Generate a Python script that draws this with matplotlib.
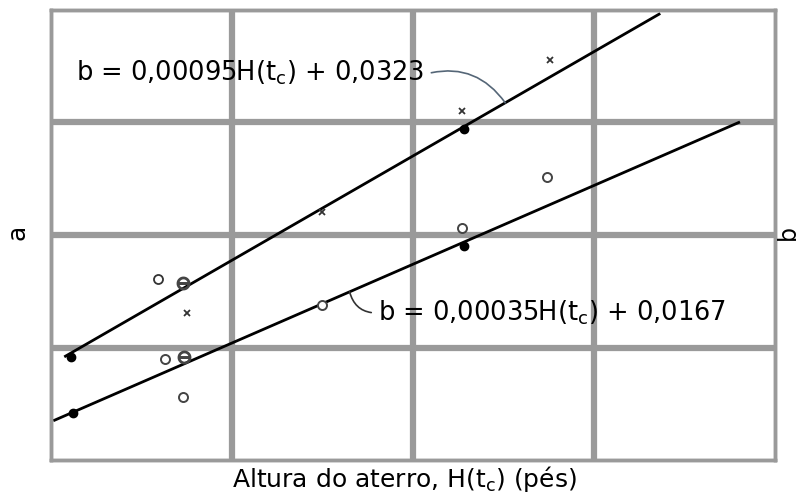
import numpy as np
import matplotlib.pyplot as plt

plt.rcParams['font.family'] = ['DejaVu Sans']

# fitted lines (H in ft)
h_line_a = [0.8, 33.6]
h_line_b = [0.2, 38.0]
slope_a, icpt_a = 0.00095, 0.0323
slope_b, icpt_b = 0.00035, 0.0167

# points for the upper group (left axis, a)
h_a_cross = [7.5, 15.0, 22.7, 27.6]
a_cross = [0.0370, 0.0462, 0.0554, 0.0600]
h_a_open = [5.9]
a_open = [0.0401]
h_a_slash = [7.3]
a_slash = [0.0397]
h_a_dot = [1.1, 22.8]
a_dot = [0.0330, 0.0538]

# points for the lower group (right axis, b)
h_b_open = [6.3, 7.3, 15.0, 22.7, 27.4]
b_open = [0.0195, 0.0178, 0.0219, 0.0253, 0.0276]
h_b_slash = [7.35]
b_slash = [0.0196]
h_b_dot = [1.2, 22.8]
b_dot = [0.0171, 0.0245]

label_a = 'b = 0,00095H(t$_\\mathregular{c}$) + 0,0323'
label_b = 'b = 0,00035H(t$_\\mathregular{c}$) + 0,0167'

grid_col = '#9a9a9a'

fig = plt.figure(figsize=(8.03, 4.97), dpi=100)
ax = fig.add_axes([0.0635, 0.0744, 0.9015, 0.9055])
ax_b = ax.twinx()

ax.set_xlim(0, 40)
ax.set_ylim(0.0236, 0.0646)
ax_b.set_ylim(0.015, 0.035)

ax.set_xticks([10, 20, 30])
ax.set_yticks(np.linspace(0.0236, 0.0646, 5)[1:-1])
ax_b.set_yticks([])
ax.tick_params(length=0, labelbottom=False, labelleft=False)
ax_b.tick_params(length=0, labelright=False)
ax.grid(True, color=grid_col, lw=4.5)
ax.set_axisbelow(True)
for a_ in (ax, ax_b):
    for s in a_.spines.values():
        s.set_color(grid_col)
        s.set_linewidth(2.5)

# upper line and points
ha = np.array(h_line_a)
ax.plot(ha, slope_a * ha + icpt_a, color='black', lw=2)
ax.plot(h_a_cross, a_cross, 'x', color='#333333', ms=5, mew=1.3)
ax.plot(h_a_open, a_open, 'o', mfc='white', mec='#333333', ms=6.5, mew=1.3)
ax.plot(h_a_slash, a_slash, marker='$\\ominus$', ls='none', color='#444444', ms=9)
ax.plot(h_a_dot, a_dot, 'o', color='black', ms=6)

# lower line and points
hb = np.array(h_line_b)
ax_b.plot(hb, slope_b * hb + icpt_b, color='black', lw=2)
ax_b.plot(h_b_open, b_open, 'o', mfc='white', mec='#444444', ms=6.5, mew=1.4)
ax_b.plot(h_b_slash, b_slash, marker='$\\ominus$', ls='none', color='#444444', ms=9)
ax_b.plot(h_b_dot, b_dot, 'o', color='black', ms=6)

# labels with curved leaders
h_pt = 25.1
ax.annotate(label_a, xy=(h_pt, slope_a * h_pt + icpt_a),
            xytext=(0.035, 0.86), textcoords='axes fraction',
            ha='left', va='center', fontsize=18.5,
            arrowprops=dict(arrowstyle='-', color='#556677', lw=1.2, relpos=(1, 0.45),
                            connectionstyle='arc3,rad=-0.35', shrinkA=3, shrinkB=0))
h_pt = 16.5
ax_b.annotate(label_b, xy=(h_pt, slope_b * h_pt + icpt_b),
              xytext=(0.452, 0.327), textcoords='axes fraction',
              ha='left', va='center', fontsize=18.5,
              arrowprops=dict(arrowstyle='-', color='#333333', lw=1.2, relpos=(0, 0.5),
                              connectionstyle='arc3,rad=-0.4', shrinkA=3, shrinkB=0))

fig.text(0.504, 0.036, 'Altura do aterro, H(t$_\\mathregular{c}$) (pés)',
         ha='center', va='center', fontsize=18)
fig.text(0.022, 0.533, 'a', rotation=90, ha='center', va='center', fontsize=18)
fig.text(0.981, 0.533, 'b', rotation=90, ha='center', va='center', fontsize=17)

fig.savefig('out.png', dpi=100)
